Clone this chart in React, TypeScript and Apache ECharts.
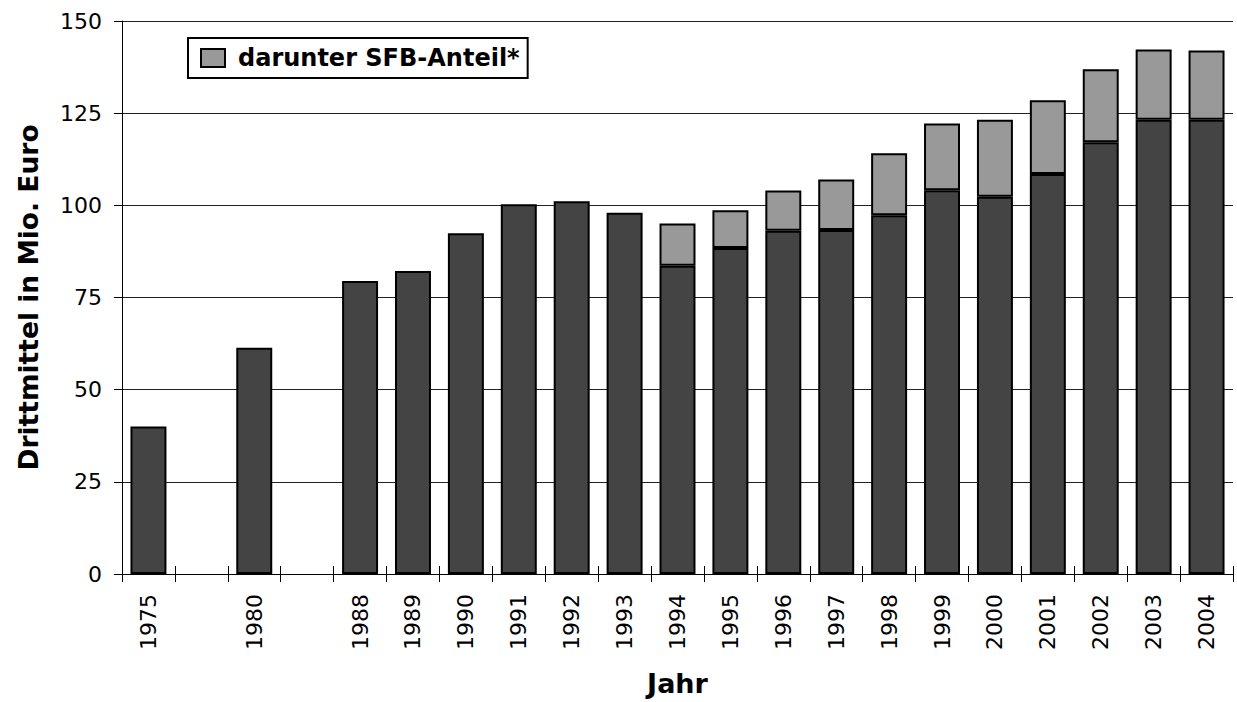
import React, { useEffect, useRef } from "react";
import * as echarts from "echarts";

const years = ["1975", "", "1980", "", "1988", "1989", "1990", "1991", "1992", "1993", "1994", "1995", "1996", "1997", "1998", "1999", "2000", "2001", "2002", "2003", "2004"];
const baseValues: (number | null)[] = [40.0, null, 61.4, null, 79.5, 82.2, 92.4, 100.3, 101.1, 98.0, 83.6, 88.4, 93.1, 93.3, 97.3, 104.1, 102.3, 108.5, 117.1, 123.2, 123.2];
const sfbValues: (number | null)[] = [null, null, null, null, null, null, null, null, null, null, 11.5, 10.3, 10.9, 13.7, 16.8, 18.1, 20.9, 20.0, 19.8, 19.1, 18.8];
const yTicks = { min: 0, max: 150, interval: 25 };
const sfbName = "darunter SFB-Anteil*";
const baseName = "Drittmittel insgesamt";

export default function App() {
  const ref = useRef<HTMLDivElement>(null);
  useEffect(() => {
    if (!ref.current) return;
    const chart = echarts.init(ref.current, undefined, { renderer: "svg" });
    const font = "'DejaVu Sans', 'Noto Sans', sans-serif";
    chart.setOption({
      animation: false,
      backgroundColor: "#fff",
      grid: { left: 122, right: 4, top: 21, bottom: 126, containLabel: false },
      legend: {
        data: [{ name: sfbName, icon: "rect" }],
        left: 188,
        top: 38,
        orient: "horizontal",
        borderColor: "#000",
        borderWidth: 2,
        borderRadius: 0,
        padding: [8, 8, 8, 12],
        itemWidth: 24,
        itemHeight: 18,
        textStyle: { fontFamily: font, fontWeight: "bold", fontSize: 24, color: "#000", padding: [0, 0, 0, 8] },
        selectedMode: false,
      },
      xAxis: [
        {
          type: "category",
          data: years,
          boundaryGap: true,
          name: "Jahr",
          nameLocation: "middle",
          nameGap: 96,
          nameTextStyle: { fontFamily: font, fontWeight: "bold", fontSize: 27, color: "#000" },
          axisLine: { show: true, lineStyle: { color: "#000", width: 1 } },
          axisTick: { show: true, length: 8, lineStyle: { color: "#000" }, interval: 0 },
          axisLabel: { rotate: 90, interval: 0, fontFamily: font, fontSize: 22, color: "#000", margin: 20 },
          splitLine: { show: false },
        },
        {
          type: "category",
          data: years,
          position: "bottom",
          boundaryGap: true,
          axisLine: { show: false },
          axisTick: { show: true, inside: true, length: 8, lineStyle: { color: "#000" }, interval: 0 },
          axisLabel: { show: false },
          splitLine: { show: false },
        },
      ],
      yAxis: {
        type: "value",
        min: yTicks.min,
        max: yTicks.max,
        interval: yTicks.interval,
        name: "Drittmittel in Mio. Euro",
        nameLocation: "middle",
        nameGap: 80,
        nameTextStyle: { fontFamily: font, fontWeight: "bold", fontSize: 26.5, color: "#000" },
        axisLine: { show: true, lineStyle: { color: "#000", width: 1 } },
        axisTick: { show: true, length: 8, lineStyle: { color: "#000" } },
        axisLabel: { fontFamily: font, fontSize: 22, color: "#000", margin: 20 },
        splitLine: { show: true, lineStyle: { color: "#222", width: 1 } },
      },
      series: [
        {
          name: baseName,
          type: "bar",
          stack: "total",
          data: baseValues,
          barCategoryGap: "32%",
          itemStyle: { color: "#444444", borderColor: "#000", borderWidth: 2 },
        },
        {
          name: sfbName,
          type: "bar",
          stack: "total",
          data: sfbValues,
          barCategoryGap: "32%",
          itemStyle: { color: "#999999", borderColor: "#000", borderWidth: 2 },
        },
      ],
    });
    return () => chart.dispose();
  }, []);
  return <div ref={ref} style={{ position: "fixed", left: 0, top: 0, width: 1237, height: 702 }} />;
}
